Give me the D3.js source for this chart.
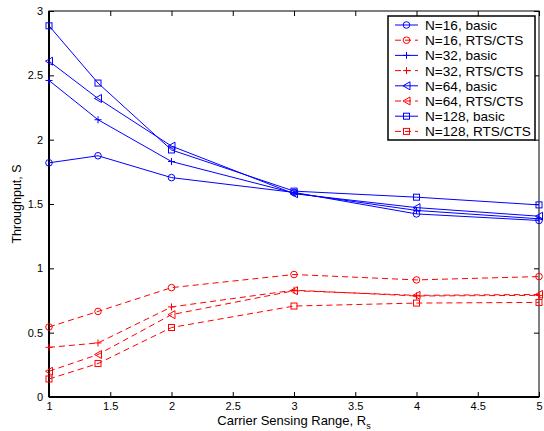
<!DOCTYPE html>
<html><head><meta charset="utf-8">
<script src="https://cdn.jsdelivr.net/npm/d3@7"></script>
<style>body{margin:0;background:#fff;} text{font-family:"Liberation Sans",Arial,sans-serif;}</style>
</head><body>
<svg id="c" width="544" height="431"></svg>
<script>
const xValues = [1, 1.4, 2, 3, 4, 5];
const basic16 = [1.82, 1.875, 1.705, 1.59, 1.423, 1.372];
const basic32 = [2.46, 2.155, 1.83, 1.585, 1.45, 1.385];
const basic64 = [2.61, 2.32, 1.95, 1.58, 1.472, 1.405];
const basic128 = [2.885, 2.44, 1.92, 1.60, 1.553, 1.493];
const rts16 = [0.544, 0.665, 0.85, 0.952, 0.91, 0.936];
const rts32 = [0.386, 0.42, 0.70, 0.83, 0.785, 0.79];
const rts64 = [0.20, 0.33, 0.64, 0.826, 0.79, 0.797];
const rts128 = [0.14, 0.26, 0.54, 0.707, 0.73, 0.735];
const xTicks = [1, 1.5, 2, 2.5, 3, 3.5, 4, 4.5, 5];
const yTicks = [0, 0.5, 1, 1.5, 2, 2.5, 3];
const seriesNames = ["N=16, basic","N=16, RTS/CTS","N=32, basic","N=32, RTS/CTS","N=64, basic","N=64, RTS/CTS","N=128, basic","N=128, RTS/CTS"];
const seriesValues = [basic16, rts16, basic32, rts32, basic64, rts64, basic128, rts128];
const seriesMarkers = ["circle","circle","plus","plus","triangle","triangle","square","square"];
const seriesKinds = ["basic","rts","basic","rts","basic","rts","basic","rts"];

const L = 49, R = 539, T = 11, B = 397;
const svg = d3.select("#c");
const x = d3.scaleLinear().domain([1,5]).range([L,R]);
const y = d3.scaleLinear().domain([0,3]).range([B,T]);
const colorOf = k => k === "basic" ? "#0000ff" : "#ff0000";

function marker(g, type, cx, cy, color) {
  if (type === "circle") g.append("circle").attr("cx",cx).attr("cy",cy).attr("r",3.3).attr("fill","none").attr("stroke",color).attr("stroke-width",1);
  else if (type === "square") g.append("rect").attr("x",cx-3).attr("y",cy-3).attr("width",6).attr("height",6).attr("fill","none").attr("stroke",color).attr("stroke-width",1);
  else if (type === "plus") g.append("path").attr("d",`M${cx-3.5},${cy}H${cx+3.5}M${cx},${cy-3.5}V${cy+3.5}`).attr("stroke",color).attr("stroke-width",1);
  else if (type === "triangle") g.append("path").attr("d",`M${cx-3.5},${cy}L${cx+3.5},${cy-4}L${cx+3.5},${cy+4}Z`).attr("fill","none").attr("stroke",color).attr("stroke-width",1);
}

const gx = svg.append("g").attr("transform",`translate(0,${B})`).call(d3.axisBottom(x).tickValues(xTicks).tickSizeInner(-5).tickSizeOuter(0).tickPadding(6).tickFormat(d=>d));
const gxt = svg.append("g").attr("transform",`translate(0,${T})`).call(d3.axisTop(x).tickValues(xTicks).tickSizeInner(-5).tickSizeOuter(0).tickFormat(""));
const gy = svg.append("g").attr("transform",`translate(${L},0)`).call(d3.axisLeft(y).tickValues(yTicks).tickSizeInner(-5).tickSizeOuter(0).tickPadding(6).tickFormat(d=>d));
const gyr = svg.append("g").attr("transform",`translate(${R},0)`).call(d3.axisRight(y).tickValues(yTicks).tickSizeInner(-5).tickSizeOuter(0).tickFormat(""));
[gx,gxt,gy,gyr].forEach(g=>{g.select(".domain").remove(); g.selectAll("line").attr("stroke","#000"); g.selectAll("text").attr("font-size",11).attr("fill","#000").attr("font-family","Liberation Sans, Arial, sans-serif");});
gx.selectAll("text").attr("dy","0.6em");
svg.append("rect").attr("x",L).attr("y",T).attr("width",R-L).attr("height",B-T).attr("fill","none").attr("stroke","#000").attr("stroke-width",1);
svg.append("line").attr("x1",L).attr("x2",L).attr("y1",T).attr("y2",B).attr("stroke","#000").attr("stroke-width",2);
svg.append("line").attr("x1",L).attr("x2",R).attr("y1",B).attr("y2",B).attr("stroke","#000").attr("stroke-width",2);

const line = d3.line().x((d,i)=>x(xValues[i])).y(d=>y(d));
seriesValues.forEach((vals, s) => {
  const c = colorOf(seriesKinds[s]);
  const g = svg.append("g");
  g.append("path").attr("d",line(vals)).attr("fill","none").attr("stroke",c).attr("stroke-width",1)
    .attr("stroke-dasharray", seriesKinds[s]==="rts" ? "6,4" : null);
  vals.forEach((v,i)=>marker(g, seriesMarkers[s], x(xValues[i]), y(v), c));
});

svg.append("text").attr("x",x(3)).attr("y",425).attr("text-anchor","middle").attr("font-size",13)
  .text("Carrier Sensing Range, R").append("tspan").attr("font-size",9).attr("dy",4).text("s");
svg.append("text").attr("transform",`translate(21,${(T+B)/2}) rotate(-90)`).attr("text-anchor","middle").attr("font-size",12.5).text("Throughput, S");

const lg = svg.append("g");
lg.append("rect").attr("x",388).attr("y",16).attr("width",147).attr("height",124).attr("fill","#fff").attr("stroke","#000").attr("stroke-width",1.5);
seriesNames.forEach((n,i)=>{
  const yy = 25 + i*15.2;
  const c = colorOf(seriesKinds[i]);
  lg.append("line").attr("x1",395).attr("x2",418).attr("y1",yy).attr("y2",yy).attr("stroke",c).attr("stroke-width",1)
    .attr("stroke-dasharray", seriesKinds[i]==="rts" ? "6,4" : null);
  marker(lg, seriesMarkers[i], 406.5, yy, c);
  lg.append("text").attr("x",425).attr("y",yy+5).attr("font-size",13.6).attr("fill","#000").text(n);
});
</script>
</body></html>
